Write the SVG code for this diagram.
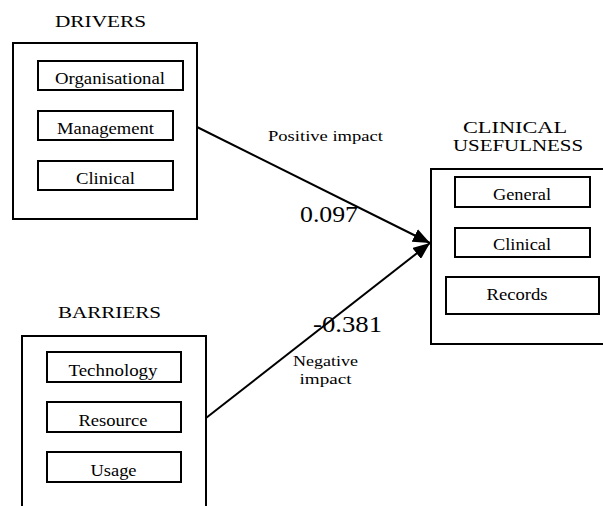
<svg xmlns="http://www.w3.org/2000/svg" width="603" height="506" viewBox="0 0 603 506">
<style>
.box{fill:#fff;stroke:#000;stroke-width:2}
.c{stroke:#000;stroke-width:2;fill:none}
</style>
<defs>
<marker id="ah" markerUnits="userSpaceOnUse" markerWidth="18" markerHeight="14" refX="17" refY="7" orient="auto">
<path d="M0,0 L17,7 L0,14 Z" fill="#000"/>
</marker>
<clipPath id="c1"><rect x="38" y="61" width="145" height="28"/></clipPath>
<clipPath id="c2"><rect x="38" y="111" width="135" height="28"/></clipPath>
<clipPath id="c3"><rect x="38" y="161" width="135" height="28"/></clipPath>
<clipPath id="c4"><rect x="47" y="352" width="134" height="29"/></clipPath>
<clipPath id="c5"><rect x="47" y="402" width="134" height="29"/></clipPath>
<clipPath id="c6"><rect x="47" y="452" width="134" height="29"/></clipPath>
</defs>
<rect width="603" height="506" fill="#fff"/>

<g font-family="Liberation Serif, Times New Roman, serif" text-anchor="middle" fill="#000">
<g id="drivers">
<text font-size="17" x="100.5" y="27" textLength="91" lengthAdjust="spacingAndGlyphs">DRIVERS</text>
<rect class="box" x="13" y="43" width="184" height="176"/>
<g id="organisational">
<rect class="box" x="38" y="61" width="145" height="29"/>
<text font-size="16" x="110" y="84" textLength="110" lengthAdjust="spacingAndGlyphs" clip-path="url(#c1)">Organisational</text>
</g>
<g id="management">
<rect class="box" x="38" y="111" width="135" height="29"/>
<text font-size="16" x="105.5" y="134" textLength="97" lengthAdjust="spacingAndGlyphs" clip-path="url(#c2)">Management</text>
</g>
<g id="clinical-d">
<rect class="box" x="38" y="161" width="135" height="29"/>
<text font-size="16" x="105.5" y="184" textLength="59" lengthAdjust="spacingAndGlyphs" clip-path="url(#c3)">Clinical</text>
</g>
</g>

<g id="barriers">
<text font-size="17" x="109.5" y="318" textLength="103" lengthAdjust="spacingAndGlyphs">BARRIERS</text>
<rect class="box" x="22" y="336" width="184" height="190"/>
<g id="technology">
<rect class="box" x="47" y="352" width="134" height="30"/>
<text font-size="16" x="113" y="376" textLength="89" lengthAdjust="spacingAndGlyphs" clip-path="url(#c4)">Technology</text>
</g>
<g id="resource">
<rect class="box" x="47" y="402" width="134" height="30"/>
<text font-size="16" x="113" y="426" textLength="69" lengthAdjust="spacingAndGlyphs" clip-path="url(#c5)">Resource</text>
</g>
<g id="usage">
<rect class="box" x="47" y="452" width="134" height="30"/>
<text font-size="16" x="113.5" y="476" textLength="46" lengthAdjust="spacingAndGlyphs" clip-path="url(#c6)">Usage</text>
</g>
</g>

<g id="clinical-usefulness">
<text font-size="16" x="515" y="133" textLength="104" lengthAdjust="spacingAndGlyphs">CLINICAL</text>
<text font-size="16" x="518" y="151" textLength="130" lengthAdjust="spacingAndGlyphs">USEFULNESS</text>
<rect class="box" x="431" y="169" width="180" height="175"/>
<g id="general">
<rect class="box" x="455" y="177" width="135" height="30"/>
<text font-size="16" x="522" y="200" textLength="58" lengthAdjust="spacingAndGlyphs">General</text>
</g>
<g id="clinical-u">
<rect class="box" x="455" y="228" width="135" height="29"/>
<text font-size="16" x="522" y="250" textLength="58" lengthAdjust="spacingAndGlyphs">Clinical</text>
</g>
<g id="records">
<rect class="box" x="446" y="277" width="153" height="37"/>
<text font-size="16" x="517" y="300" textLength="61" lengthAdjust="spacingAndGlyphs">Records</text>
</g>
</g>

<g id="connectors">
<line class="c" x1="197" y1="127" x2="430" y2="243" marker-end="url(#ah)"/>
<line class="c" x1="206" y1="418" x2="430" y2="243" marker-end="url(#ah)"/>
<text font-size="15" x="325.5" y="141" textLength="115" lengthAdjust="spacingAndGlyphs">Positive impact</text>
<text font-size="24" x="329" y="222" textLength="58" lengthAdjust="spacingAndGlyphs">0.097</text>
<text font-size="24" x="347.5" y="332" textLength="69" lengthAdjust="spacingAndGlyphs">-0.381</text>
<text font-size="15" x="325.5" y="366" textLength="65" lengthAdjust="spacingAndGlyphs">Negative</text>
<text font-size="15" x="325.5" y="384" textLength="52" lengthAdjust="spacingAndGlyphs">impact</text>
</g>
</g>
</svg>
